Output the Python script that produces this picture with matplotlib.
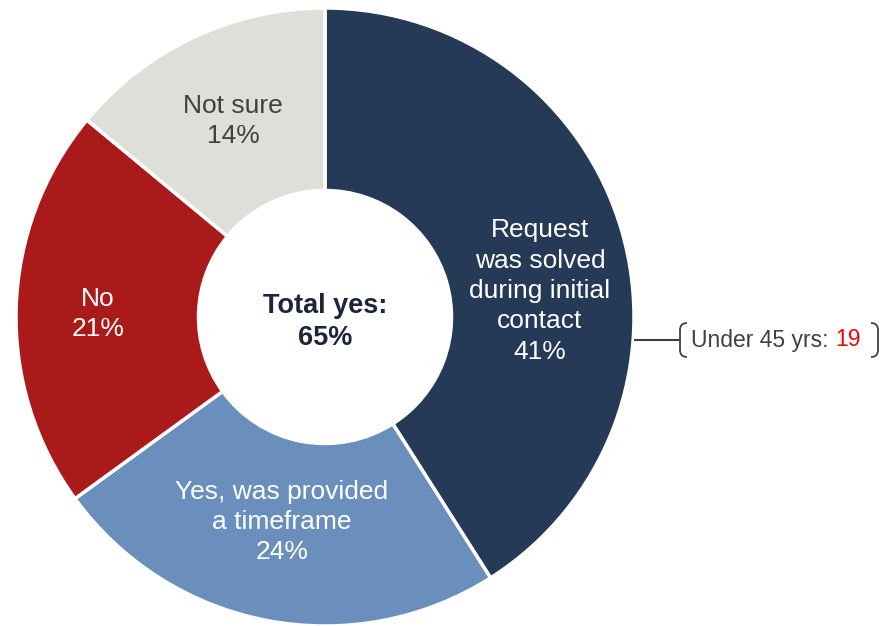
import matplotlib
matplotlib.use("Agg")
import matplotlib.pyplot as plt
from matplotlib.path import Path
from matplotlib.patches import PathPatch

plt.rcParams['font.family'] = ['Liberation Sans', 'DejaVu Sans']

# Survey responses (share of respondents, %)
categories = ["Request\nwas solved\nduring initial\ncontact",
              "Yes, was provided\na timeframe",
              "No",
              "Not sure"]
values = [41, 24, 21, 14]
colors = ["#243a56", "#6a8fbc", "#ab1a1a", "#dfdfda"]
text_colors = ["white", "white", "white", "#404040"]
total_yes = 65
note_label = "Under 45 yrs: "
note_value = 19

W, H = 884, 626
fig = plt.figure(figsize=(W / 100, H / 100), dpi=100)
ax = fig.add_axes([0, 0, 1, 1])

cx, cy = 325, H - 317
r_out, r_in = 309, 126.5

wedges, _ = ax.pie(values, colors=colors, startangle=90, counterclock=False,
                   center=(cx, cy), radius=r_out,
                   wedgeprops=dict(width=r_out - r_in, edgecolor="white", linewidth=2.5))

ax.set_xlim(0, W)
ax.set_ylim(0, H)
ax.set_aspect("equal")
ax.axis("off")

# slice labels
label_pos = [(540, H - 291), (282, H - 522), (98, H - 314), (233, H - 121)]
for cat, v, (lx, ly), tc in zip(categories, values, label_pos, text_colors):
    ax.text(lx, ly, f"{cat}\n{v}%", ha="center", va="center", fontsize=19,
            color=tc, linespacing=1.33)

# centre total
ax.text(cx, H - 322, f"Total yes:\n{total_yes}%", ha="center", va="center",
        fontsize=19.5, fontweight="bold", color="#1c2638", linespacing=1.33)

# callout for the largest slice
ly = H - 340
ax.plot([cx + r_out, 679], [ly, ly], color="#404040", lw=1.5, solid_capstyle="butt")

def bracket(x, side):
    top, bot = ly + 17, ly - 17
    d = 7 * side
    verts = [(x + d, top), (x, top), (x, top - 7), (x, bot + 7), (x, bot), (x + d, bot)]
    codes = [Path.MOVETO, Path.CURVE3, Path.CURVE3, Path.LINETO, Path.CURVE3, Path.CURVE3]
    ax.add_patch(PathPatch(Path(verts, codes), fill=False, edgecolor="#404040", lw=1.3))

bracket(680, 1)
bracket(878, -1)

t = ax.text(691, ly, note_label, ha="left", va="center", fontsize=16.5, color="#404040")
fig.canvas.draw()
bb = t.get_window_extent()
x_end = ax.transData.inverted().transform((bb.x1, bb.y0))[0]
ax.text(x_end, ly, f"{note_value}", ha="left", va="center", fontsize=16.5, color="#ff0000")

fig.savefig("out.png", dpi=100)
